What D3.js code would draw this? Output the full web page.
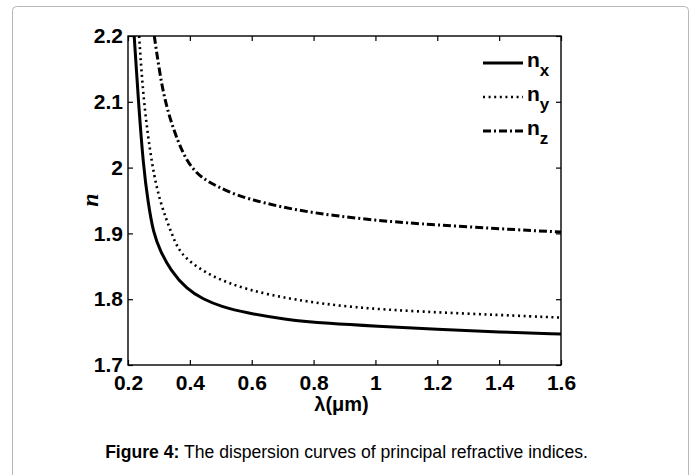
<!DOCTYPE html>
<html lang="en">
<head>
    <meta charset="UTF-8">
    <title>Dispersion curves</title>
    <script src="https://d3js.org/d3.v7.min.js"></script>
    <style>
        body {
            margin: 0;
            background-color: #fff;
            font-family: "Liberation Sans", Arial, sans-serif;
        }
        svg { display: block; }
    </style>
</head>
<body>
    <div id="chart"></div>

    <script>
        // values (lambda in um, refractive index)
        const nxLambda = [0.220, 0.233, 0.250, 0.265, 0.282, 0.305, 0.336, 0.390, 0.443, 0.500, 0.584, 0.709, 0.850, 1.000, 1.200, 1.400, 1.600];
        const nxValues = [2.200, 2.105, 2.000, 1.947, 1.900, 1.873, 1.845, 1.815, 1.800, 1.789, 1.779, 1.769, 1.763, 1.759, 1.754, 1.750, 1.747];

        const nyLambda = [0.236, 0.250, 0.278, 0.305, 0.341, 0.360, 0.390, 0.466, 0.585, 0.736, 0.930, 1.150, 1.400, 1.600];
        const nyValues = [2.200, 2.100, 2.000, 1.945, 1.900, 1.878, 1.860, 1.835, 1.814, 1.799, 1.787, 1.781, 1.776, 1.772];

        const nzLambda = [0.285, 0.302, 0.320, 0.347, 0.375, 0.405, 0.440, 0.485, 0.550, 0.640, 0.750, 0.866, 1.000, 1.125, 1.400, 1.600];
        const nzValues = [2.200, 2.145, 2.100, 2.058, 2.024, 2.000, 1.984, 1.972, 1.958, 1.946, 1.935, 1.927, 1.920, 1.915, 1.907, 1.902];

        const xTicks = [0.2, 0.4, 0.6, 0.8, 1, 1.2, 1.4, 1.6];
        const yTicks = [1.7, 1.8, 1.9, 2, 2.1, 2.2];
        const seriesNames = ["x", "y", "z"];

        const width = 697, height = 475;
        const plot = { left: 128, right: 561, top: 36, bottom: 365 };

        const svg = d3.select("#chart").append("svg")
            .attr("width", width).attr("height", height);

        // outer frame of the figure panel
        svg.append("rect")
            .attr("x", 12.5).attr("y", 6.5)
            .attr("width", 676).attr("height", 500)
            .attr("rx", 4)
            .attr("fill", "#fff")
            .attr("stroke", "#b8b8b8");

        const x = d3.scaleLinear().domain([0.2, 1.6]).range([plot.left, plot.right]);
        const y = d3.scaleLinear().domain([1.7, 2.2]).range([plot.bottom, plot.top]);

        svg.append("clipPath").attr("id", "clip")
            .append("rect")
            .attr("x", plot.left).attr("y", plot.top)
            .attr("width", plot.right - plot.left).attr("height", plot.bottom - plot.top);

        const series = [
            { lambda: nxLambda, values: nxValues, dash: null, width: 3 },
            { lambda: nyLambda, values: nyValues, dash: "2,3.6", width: 2.6 },
            { lambda: nzLambda, values: nzValues, dash: "8,3,2,3", width: 3 }
        ];

        // basis spline smooths out small reading errors in the points
        const line = d3.line()
            .x(d => x(d[0]))
            .y(d => y(d[1]))
            .curve(d3.curveBasis);

        const curves = svg.append("g").attr("clip-path", "url(#clip)");
        series.forEach(s => {
            curves.append("path")
                .datum(s.lambda.map((l, i) => [l, s.values[i]]))
                .attr("fill", "none")
                .attr("stroke", "#000")
                .attr("stroke-width", s.width)
                .attr("stroke-dasharray", s.dash)
                .attr("d", line);
        });

        // axes with inward ticks on all four sides
        const tickStyle = g => {
            g.select(".domain").remove();
            g.selectAll(".tick line").attr("stroke", "#000").attr("stroke-width", 1.2);
            g.selectAll(".tick text")
                .attr("fill", "#000")
                .style("font-family", "'Liberation Sans', Arial, sans-serif")
                .style("font-size", "21px")
                .style("font-weight", "bold");
        };

        svg.append("g")
            .attr("transform", `translate(0,${plot.bottom})`)
            .call(d3.axisBottom(x).tickValues(xTicks).tickSizeInner(-5).tickSizeOuter(0).tickPadding(10).tickFormat(d3.format("")))
            .call(tickStyle);

        svg.append("g")
            .attr("transform", `translate(0,${plot.top})`)
            .call(d3.axisTop(x).tickValues(xTicks).tickSizeInner(-5).tickSizeOuter(0).tickFormat(""))
            .call(tickStyle);

        svg.append("g")
            .attr("transform", `translate(${plot.left},0)`)
            .call(d3.axisLeft(y).tickValues(yTicks).tickSizeInner(-5).tickSizeOuter(0).tickPadding(5).tickFormat(d3.format("")))
            .call(tickStyle);

        svg.append("g")
            .attr("transform", `translate(${plot.right},0)`)
            .call(d3.axisRight(y).tickValues(yTicks).tickSizeInner(-5).tickSizeOuter(0).tickFormat(""))
            .call(tickStyle);

        svg.append("rect")
            .attr("x", plot.left).attr("y", plot.top)
            .attr("width", plot.right - plot.left).attr("height", plot.bottom - plot.top)
            .attr("fill", "none")
            .attr("stroke", "#000")
            .attr("stroke-width", 1.4);

        // axis titles
        svg.append("text")
            .attr("x", (plot.left + plot.right) / 2 - 3)
            .attr("y", 411)
            .attr("text-anchor", "middle")
            .style("font-size", "20px")
            .style("font-weight", "bold")
            .text("λ(μm)");

        svg.append("text")
            .attr("transform", "translate(98,200) rotate(-90)")
            .attr("text-anchor", "middle")
            .style("font-family", "'Liberation Serif', 'Times New Roman', serif")
            .style("font-style", "italic")
            .style("font-weight", "bold")
            .style("font-size", "24px")
            .text("n");

        // legend
        const legend = svg.append("g");
        series.forEach((s, i) => {
            const ly = 63 + i * 34;
            legend.append("line")
                .attr("x1", 483).attr("x2", 523)
                .attr("y1", ly).attr("y2", ly)
                .attr("stroke", "#000")
                .attr("stroke-width", s.width)
                .attr("stroke-dasharray", s.dash);
            const t = legend.append("text")
                .attr("x", 527).attr("y", ly + 4)
                .style("font-size", "21px")
                .style("font-weight", "bold");
            t.append("tspan").text("n");
            t.append("tspan").attr("dy", 9).style("font-size", "17px").text(seriesNames[i]);
        });

        // caption
        const caption = svg.append("text")
            .attr("x", width / 2 - 2)
            .attr("y", 458)
            .attr("text-anchor", "middle")
            .style("font-size", "17.6px");
        caption.append("tspan").style("font-weight", "bold").text("Figure 4:");
        caption.append("tspan").text(" The dispersion curves of principal refractive indices.");
    </script>
</body>
</html>
